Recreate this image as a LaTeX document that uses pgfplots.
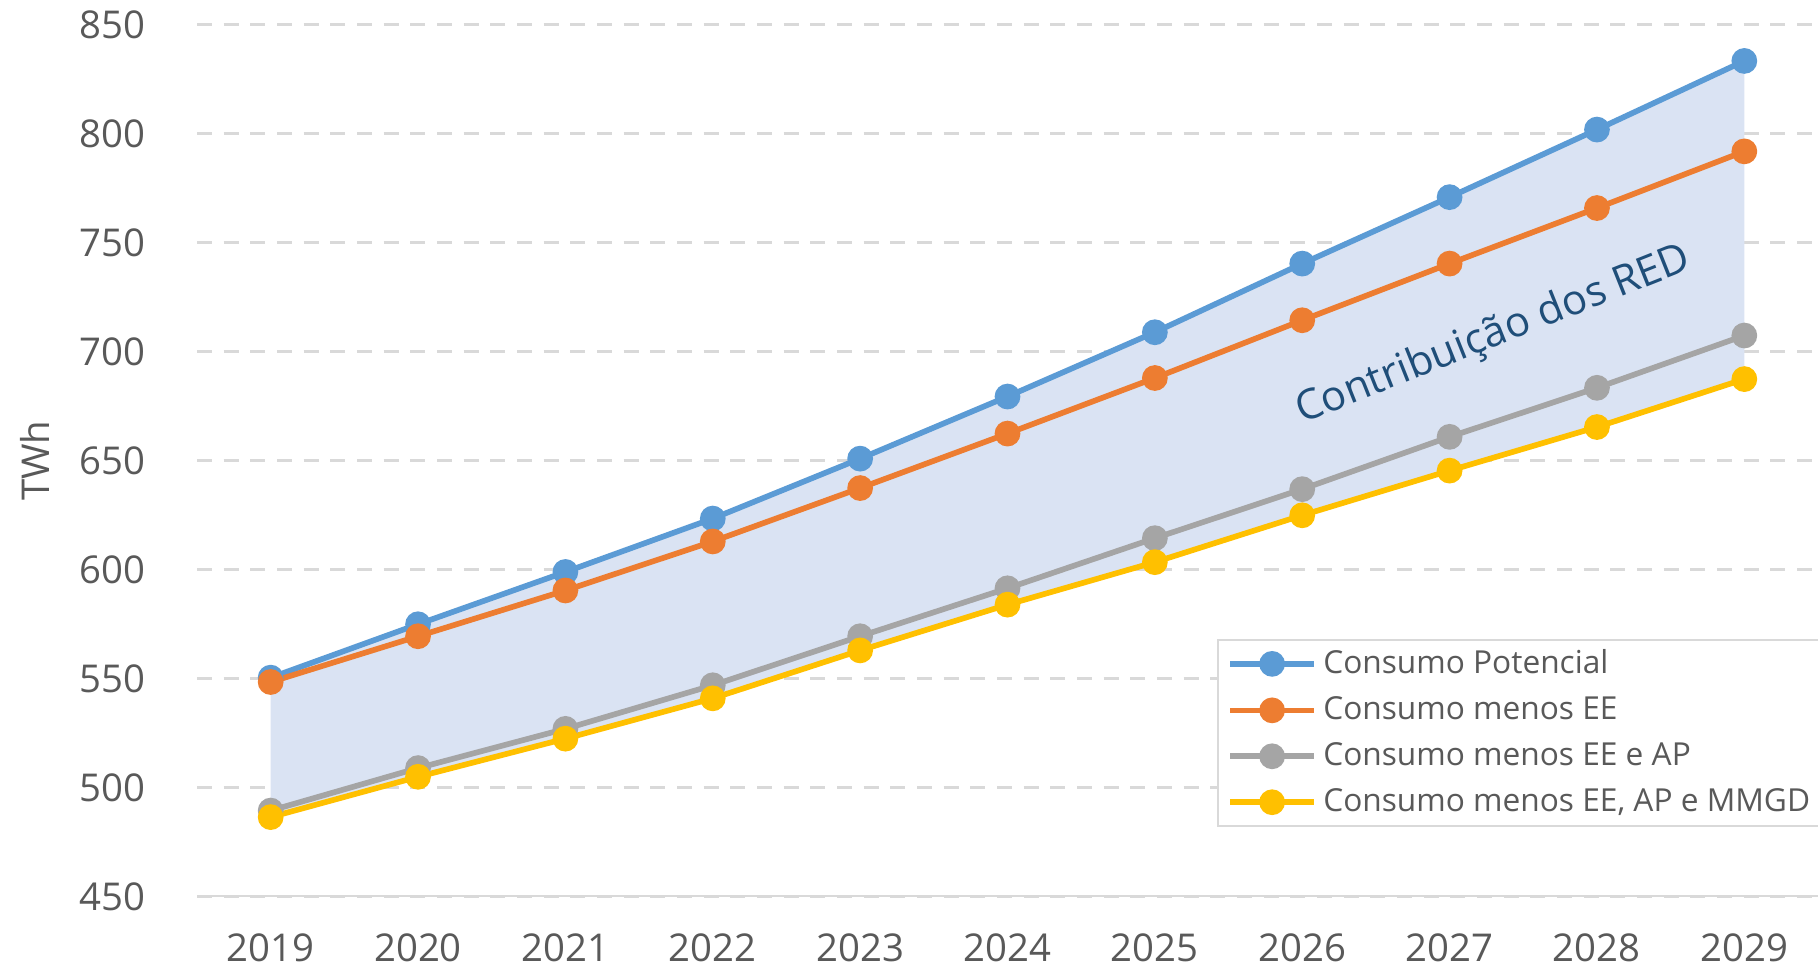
\documentclass[border=0pt]{standalone}
\usepackage{fontspec}
\setmainfont{Open Sans}
\usepackage{pgfplots}
\pgfplotsset{compat=1.18}
\usepgfplotslibrary{fillbetween}
\definecolor{cBlue}{HTML}{5B9BD5}
\definecolor{cOrange}{HTML}{ED7D31}
\definecolor{cGrey}{HTML}{A5A5A5}
\definecolor{cYellow}{HTML}{FFC000}
\definecolor{cFill}{HTML}{DAE3F3}
\definecolor{cGrid}{HTML}{D9D9D9}
\definecolor{cText}{HTML}{595959}
\definecolor{cNote}{HTML}{1F4E79}
\begin{document}
\begin{tikzpicture}
\begin{axis}[
  set layers,
  scale only axis,
  width=486.3pt, height=261.5pt,
  xmin=2018.5, xmax=2029.5,
  ymin=450, ymax=850,
  xtick={2019,...,2029},
  ytick={450,500,...,850},
  /pgf/number format/assume math mode=true,
  /pgf/number format/1000 sep={},
  axis line style={draw=none},
  axis x line*=bottom,
  axis y line*=left,
  major tick length=0pt,
  tick label style={font=\fontsize{11.5}{13}\selectfont, text=cText},
  yticklabel style={xshift=-12pt},
  xticklabel style={yshift=-7.5pt},
  ymajorgrids,
  grid style={draw=cGrid, line width=0.9pt, dash pattern=on 4.5pt off 3.5pt},
  ylabel={TWh},
  ylabel style={at={(axis description cs:-0.0999,0.5)}, rotate=0, anchor=center, font=\fontsize{11.5}{13}\selectfont, text=cText},
  legend style={at={(0.629,0.2956)}, anchor=north west, draw=cGrid, line width=0.6pt,
    font=\fontsize{9.5}{11}\selectfont, text=cText, row sep=1.4pt,
    inner xsep=3pt, inner ysep=0.8pt},
  legend cell align=left,
  legend image code/.code={\draw[mark repeat=2,mark phase=2] plot coordinates {(0pt,0pt)(12.5pt,0pt)(25pt,0pt)};},
  every axis plot/.append style={line width=1.7pt, mark=*, mark size=3pt, mark options={solid}},
]
\draw[cGrid, line width=0.7pt] (axis cs:2018.5,450) -- (axis cs:2029.5,450);
\addplot[color=cBlue, name path=A] coordinates {
(2019,550.5) (2020,575) (2021,599) (2022,623.5) (2023,651) (2024,679.5)
(2025,709) (2026,740.5) (2027,771) (2028,802) (2029,833.5)};
\addlegendentry{Consumo Potencial}
\addplot[color=cOrange] coordinates {
(2019,548.5) (2020,569.5) (2021,590.5) (2022,613) (2023,637.5) (2024,662.5)
(2025,688) (2026,714.5) (2027,740.5) (2028,766) (2029,792)};
\addlegendentry{Consumo menos EE}
\addplot[color=cGrey] coordinates {
(2019,489.5) (2020,509) (2021,527) (2022,547) (2023,569.5) (2024,591.5)
(2025,614.5) (2026,637) (2027,661) (2028,683.5) (2029,707.5)};
\addlegendentry{Consumo menos EE e AP}
\addplot[color=cYellow, name path=D] coordinates {
(2019,486.5) (2020,505) (2021,522.5) (2022,541) (2023,563) (2024,584)
(2025,603.5) (2026,625) (2027,645.5) (2028,665.5) (2029,687.5)};
\addlegendentry{Consumo menos EE, AP e MMGD}
\addplot[fill=cFill, draw=none, mark=none, forget plot] fill between[of=A and D];
\node[rotate=21.7, text=cNote, font=\fontsize{12.5}{14}\selectfont] at (axis cs:2027.3,707.3) {Contribuição dos RED};
\end{axis}
\pgfresetboundingbox
\path (-59.1pt,-22pt) rectangle (486.3pt,269pt);
\end{tikzpicture}
\end{document}
